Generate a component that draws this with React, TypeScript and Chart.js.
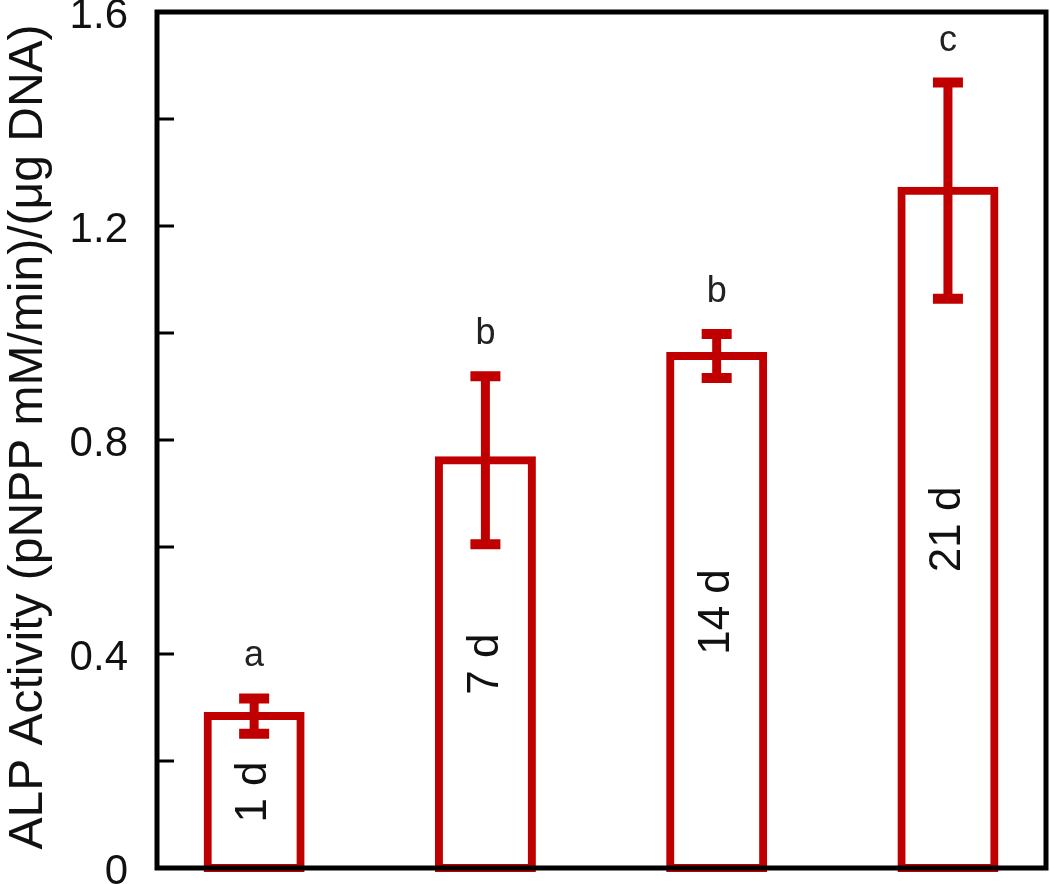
import React, { useEffect, useRef } from 'react';
import { Chart, registerables } from 'chart.js';

Chart.register(...registerables);

// ---- data ----
const categories = ['1 d', '7 d', '14 d', '21 d'];
const positions = [1, 2, 3, 4];
const means = [0.284, 0.762, 0.957, 1.266];
const errors = [0.033, 0.157, 0.041, 0.202];
const groupLetters = ['a', 'b', 'b', 'c'];
const yTickValues = [0, 0.4, 0.8, 1.2, 1.6];
const yTickLabels = ['0', '0.4', '0.8', '1.2', '1.6'];
const yTitle = 'ALP Activity (pNPP mM/min)/(\u03bcg DNA)';

const RED = '#C00000';
const FONT = '"Liberation Sans", Arial, sans-serif';

const decorPlugin = {
  id: 'decor',
  afterDatasetsDraw(chart: any) {
    const { ctx, chartArea } = chart;
    const xs = chart.scales.x;
    const ys = chart.scales.y;
    ctx.save();

    // error bars
    ctx.strokeStyle = RED;
    positions.forEach((p, i) => {
      const x = xs.getPixelForValue(p);
      const yt = ys.getPixelForValue(means[i] + errors[i]);
      const yb = ys.getPixelForValue(means[i] - errors[i]);
      ctx.lineCap = 'butt';
      ctx.lineWidth = 9;
      ctx.beginPath();
      ctx.moveTo(x, yt);
      ctx.lineTo(x, yb);
      ctx.stroke();
      ctx.lineWidth = 10;
      ctx.beginPath();
      ctx.moveTo(x - 15, yt);
      ctx.lineTo(x + 15, yt);
      ctx.moveTo(x - 15, yb);
      ctx.lineTo(x + 15, yb);
      ctx.stroke();
    });

    // frame
    ctx.strokeStyle = '#000';
    ctx.lineWidth = 5;
    ctx.lineCap = 'butt';
    ctx.strokeRect(chartArea.left, chartArea.top, chartArea.right - chartArea.left, chartArea.bottom - chartArea.top);

    // inward ticks
    ctx.lineWidth = 3;
    ys.ticks.forEach((t: any) => {
      const y = ys.getPixelForValue(t.value);
      ctx.beginPath();
      ctx.moveTo(chartArea.left, y);
      ctx.lineTo(chartArea.left + 17, y);
      ctx.stroke();
    });

    // group letters
    ctx.fillStyle = '#222';
    ctx.font = `36px ${FONT}`;
    ctx.textAlign = 'center';
    ctx.textBaseline = 'middle';
    positions.forEach((p, i) => {
      const x = xs.getPixelForValue(p);
      const y = ys.getPixelForValue(means[i] + errors[i]) - 42;
      ctx.fillText(groupLetters[i], x, y);
    });

    // in-bar labels
    ctx.fillStyle = '#111';
    ctx.font = `44px ${FONT}`;
    positions.forEach((p, i) => {
      const x = xs.getPixelForValue(p);
      const y = (ys.getPixelForValue(means[i]) + ys.getPixelForValue(0)) / 2;
      ctx.save();
      ctx.translate(x, y);
      ctx.rotate(-Math.PI / 2);
      ctx.fillText(categories[i], 0, 0);
      ctx.restore();
    });

    // y title
    ctx.fillStyle = '#111';
    ctx.font = `48px ${FONT}`;
    ctx.save();
    ctx.translate(29, (chartArea.top + chartArea.bottom) / 2 - 3);
    ctx.rotate(-Math.PI / 2);
    ctx.fillText(yTitle, 0, 0);
    ctx.restore();

    ctx.restore();
  },
};

export default function App() {
  const ref = useRef<HTMLCanvasElement>(null);
  useEffect(() => {
    if (!ref.current) return;
    const chart = new Chart(ref.current, {
      type: 'bar',
      data: {
        labels: categories,
        datasets: [
          {
            data: positions.map((p, i) => ({ x: p, y: means[i] })),
            backgroundColor: '#ffffff',
            borderColor: RED,
            borderWidth: 8,
            borderSkipped: false,
            inflateAmount: 4,
            barThickness: 93,
            clip: false,
          } as any,
        ],
      },
      options: {
        animation: false,
        responsive: false,
        devicePixelRatio: 1,
        layout: { padding: { left: 0, top: 12, right: 4, bottom: 16 } },
        plugins: { legend: { display: false }, tooltip: { enabled: false } },
        scales: {
          x: {
            type: 'linear',
            display: false,
            offset: false,
            min: 0.58,
            max: 4.424,
          },
          y: {
            min: 0,
            max: 1.6,
            afterFit: (s: any) => {
              s.width = 157;
              s.paddingTop = 0;
              s.paddingBottom = 0;
            },
            grid: { display: false, drawTicks: false },
            border: { display: false },
            ticks: {
              stepSize: 0.2,
              padding: 29,
              labelOffset: 4,
              color: '#111',
              font: { size: 42, family: FONT },
              callback: (v: any) => {
                const idx = yTickValues.findIndex((t) => Math.abs(t - Number(v)) < 1e-6);
                return idx >= 0 ? yTickLabels[idx] : '';
              },
            },
          },
        },
      },
      plugins: [decorPlugin],
    });
    return () => chart.destroy();
  }, []);
  return (
    <div style={{ position: 'absolute', left: 0, top: 0, width: 1050, height: 884, background: '#fff' }}>
      <canvas ref={ref} width={1050} height={884} style={{ width: 1050, height: 884 }} />
    </div>
  );
}
